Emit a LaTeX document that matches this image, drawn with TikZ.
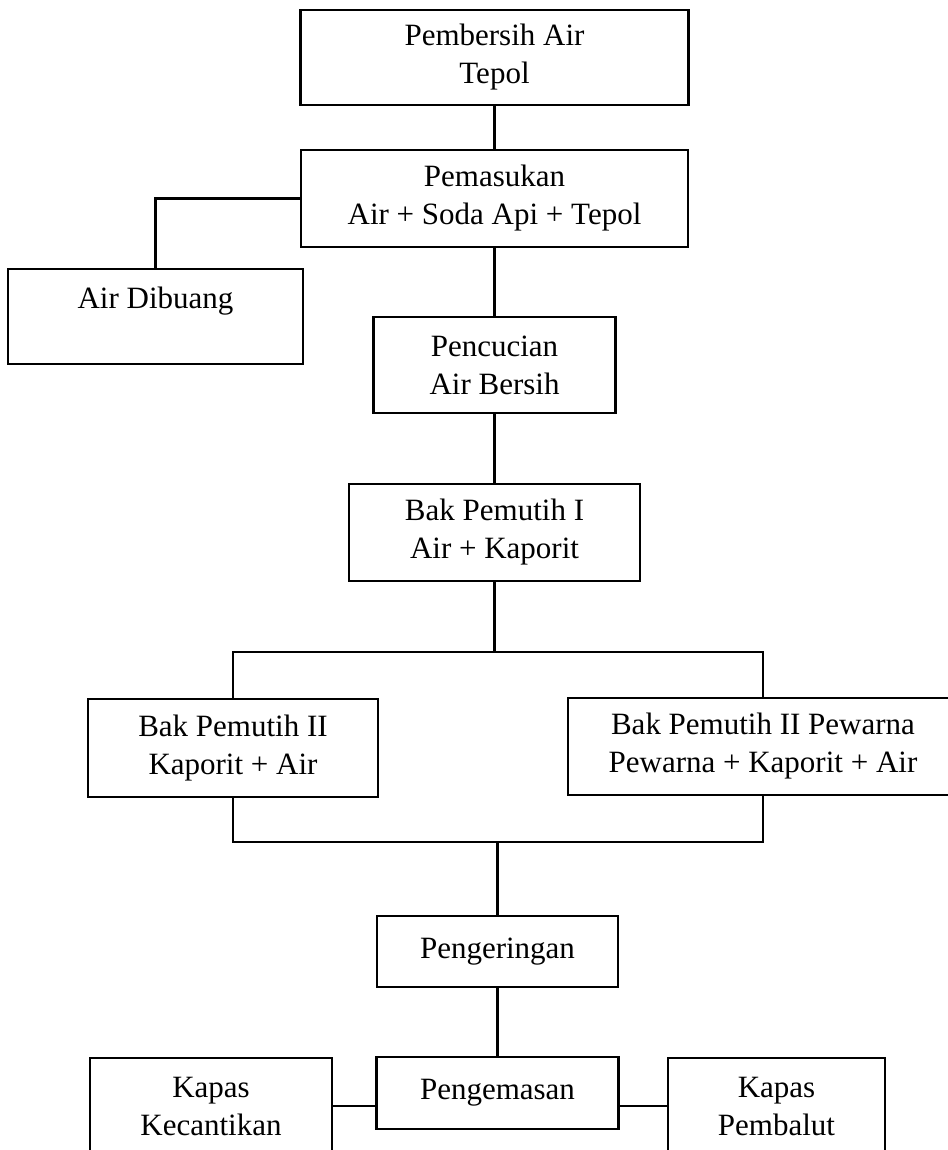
\documentclass[tikz,border=0pt]{standalone}
\usepackage{fontspec}
\setmainfont{Liberation Serif}
\usepackage{tikz}
\tikzstyle{kotak} = [rectangle, draw=black, line width=1.3pt, inner sep=0pt, align=center, font=\fontsize{15.5}{19}\selectfont]
\tikzstyle{garis} = [line width=1.1pt]

\begin{document}
\begin{tikzpicture}[x=0.5pt, y=-0.5pt]

        \useasboundingbox (0,0) rectangle (947,1150);

        \node (pembersih) [kotak, minimum width=194pt, minimum height=47.5pt] at (494.5,57.5) {Pembersih Air\\Tepol};
        \node (pemasukan) [kotak, minimum width=193.5pt, minimum height=48.5pt] at (494.5,198.5) {Pemasukan\\Air + Soda Api + Tepol};
        \node (dibuang) [kotak, minimum width=147.5pt, minimum height=47.5pt] at (155.5,316.5) {Air Dibuang\\~};
        \node (pencucian) [kotak, minimum width=121pt, minimum height=48pt] at (494.5,365) {Pencucian\\Air Bersih};
        \node (pemutihsatu) [kotak, minimum width=145.5pt, minimum height=48.5pt] at (494.5,532.5) {Bak Pemutih I\\Air + Kaporit};

        \node (pemutihdua) [kotak, minimum width=145pt, minimum height=49pt] at (233,748) {Bak Pemutih II\\Kaporit + Air};
        \node (pewarna) [kotak, minimum width=195pt, minimum height=48.5pt] at (763,746.5) {Bak Pemutih II Pewarna\\Pewarna + Kaporit + Air};

        \node (pengeringan) [kotak, minimum width=120.5pt, minimum height=35.5pt] at (497.5,951.5) {Pengeringan};
        \node (pengemasan) [kotak, minimum width=121pt, minimum height=36pt] at (497.5,1093) {Pengemasan};
        \node (kecantikan) [kotak, minimum width=121pt, minimum height=48pt] at (211,1106) {Kapas\\Kecantikan};
        \node (pembalut) [kotak, minimum width=108.5pt, minimum height=48pt] at (776.5,1106) {Kapas\\Pembalut};

        \coordinate (cabang) at (494.5,652);
        \coordinate (gabung) at (497.5,842);

        \draw[garis] (pembersih.south) -- (pemasukan.north);
        \draw[garis] (pemasukan.west) -| (dibuang.north);
        \draw[garis] (pemasukan.south) -- (pencucian.north);
        \draw[garis] (pencucian.south) -- (pemutihsatu.north);

        \draw[garis] (pemutihsatu.south) -- (cabang);
        \draw[garis] (pemutihdua.north) |- (cabang) -| (pewarna.north);
        \draw[garis] (pemutihdua.south) |- (gabung) -| (pewarna.south);
        \draw[garis] (gabung) -- (pengeringan.north);

        \draw[garis] (pengeringan.south) -- (pengemasan.north);
        \draw[garis] (kecantikan.east) -- (kecantikan.east -| pengemasan.west);
        \draw[garis] (pembalut.west) -- (pembalut.west -| pengemasan.east);

    \end{tikzpicture}
\end{document}
